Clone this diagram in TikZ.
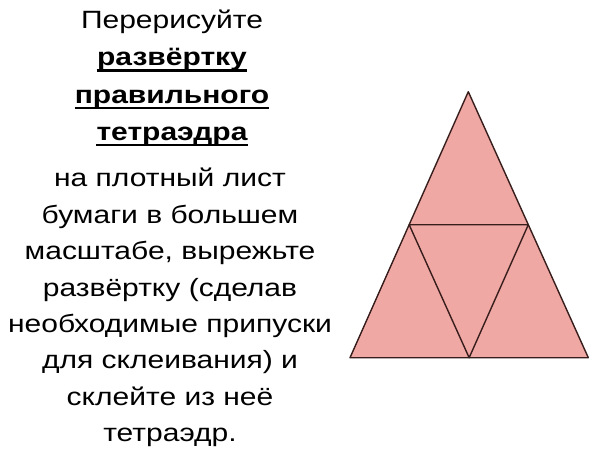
\documentclass[tikz,border=0pt]{standalone}
\usepackage{fontspec}
\setmainfont{Liberation Sans}[FakeStretch=1.2]
\usetikzlibrary{calc}
\definecolor{netpink}{RGB}{240,168,164}
\definecolor{netline}{RGB}{55,30,28}
\begin{document}
\begin{tikzpicture}[x=1pt,y=-1pt,
  txt/.style={anchor=base,inner sep=0pt,font=\fontsize{25}{30}\selectfont},
  btxt/.style={txt,font=\fontsize{25}{30}\selectfont\bfseries},
  uline/.style={line width=2.4pt},
  edge/.style={draw=netline,line width=1.4pt,line join=round}]
\useasboundingbox (0,0) rectangle (600,458);
% text
\node[txt]  (t1) at (172,28.3) {Перерисуйте};
\node[btxt] (t2) at (172,65.5) {развёртку};
\node[btxt] (t3) at (172,103) {правильного};
\node[btxt] (t4) at (172,140) {тетраэдра};
\foreach \n in {t2,t3,t4}
  \draw[uline] ([yshift=-5pt]\n.base west) -- ([yshift=-5pt]\n.base east);
\node[txt] (b1) at (170,186.7) {на плотный лист};
\node[txt] (b2) at (170,223.1) {бумаги в большем};
\node[txt] (b3) at (170,259.6) {масштабе, вырежьте};
\node[txt] (b4) at (170,296.0) {развёртку (сделав};
\node[txt] (b5) at (170,332.4) {необходимые припуски};
\node[txt] (b6) at (170,368.9) {для склеивания) и};
\node[txt] (b7) at (170,405.3) {склейте из неё};
\node[txt] (b8) at (170,441.7) {тетраэдр.};
% net of the tetrahedron
\coordinate (A) at (468.3,91.7);
\coordinate (B) at (350,357.7);
\coordinate (C) at (588.3,357.7);
\coordinate (L) at ($(A)!0.5!(B)$);
\coordinate (R) at ($(A)!0.5!(C)$);
\coordinate (M) at ($(B)!0.5!(C)$);
\fill[netpink] (A) -- (B) -- (C) -- cycle;
\draw[edge] (A) -- (B) -- (C) -- cycle;
\draw[edge] (L) -- (R) -- (M) -- cycle;
\end{tikzpicture}
\end{document}
